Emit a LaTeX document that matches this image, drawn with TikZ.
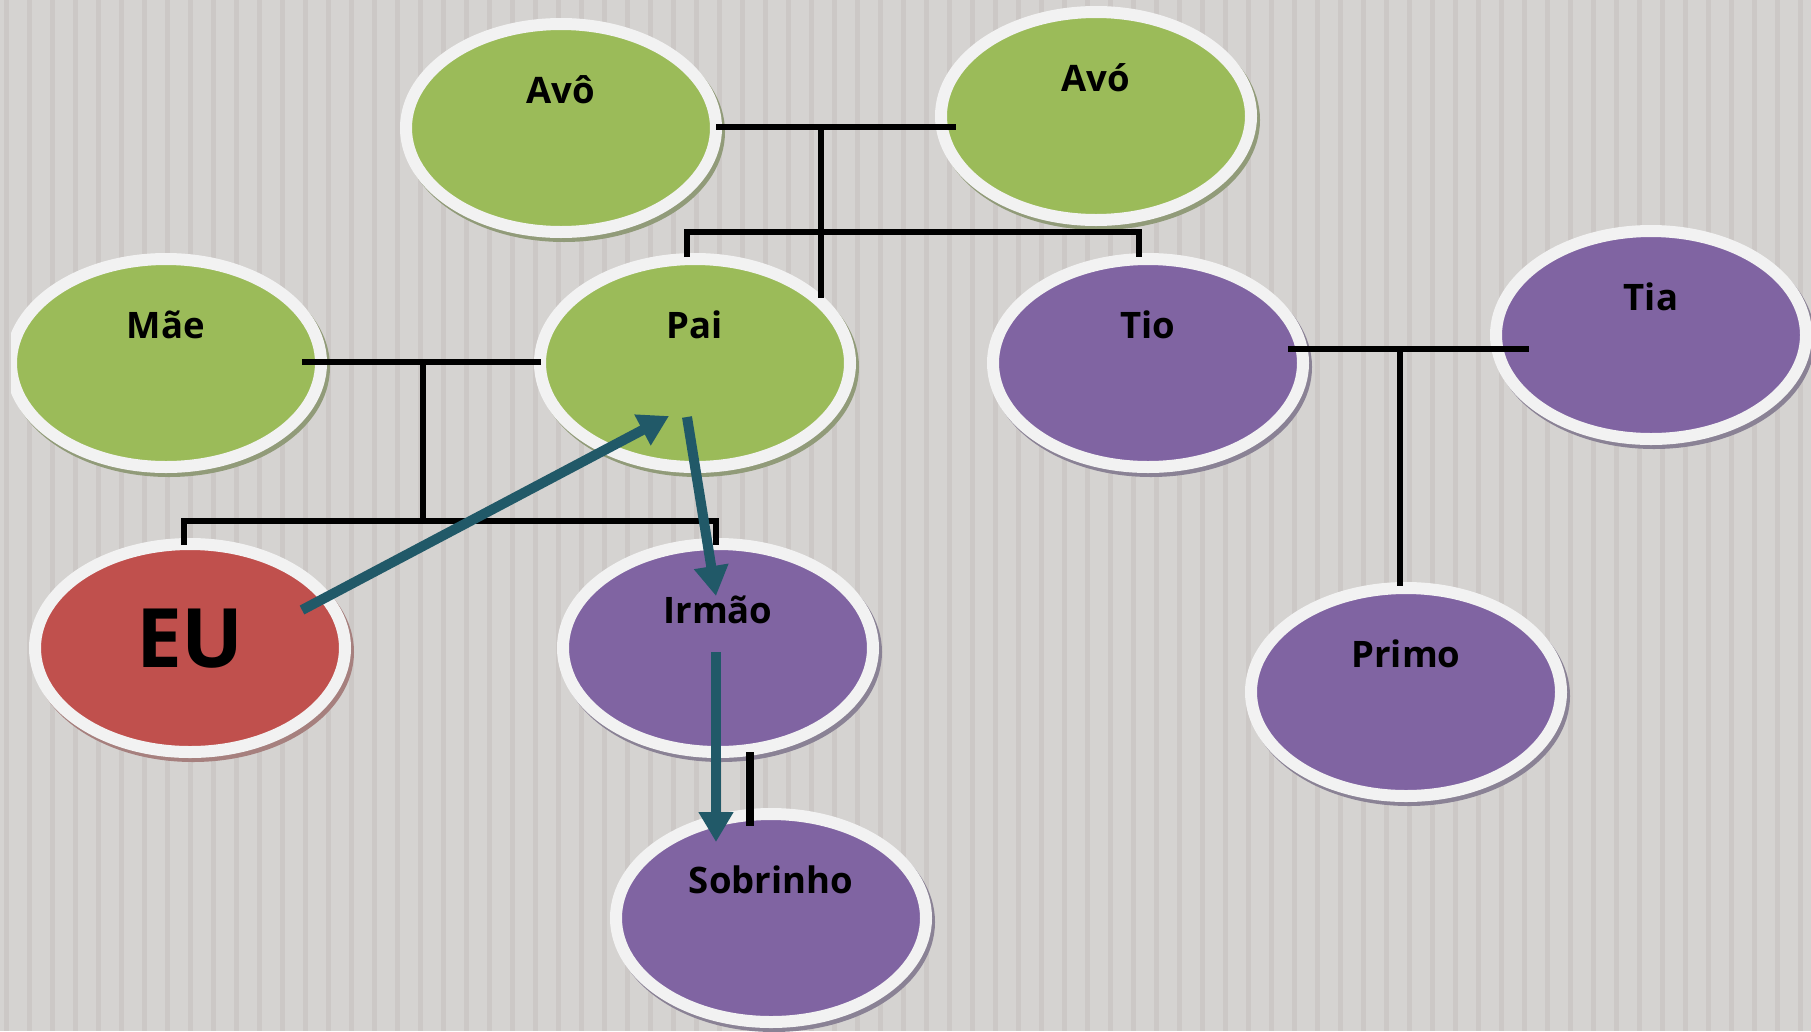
\documentclass[tikz,border=0pt]{standalone}
\usepackage{fontspec}
\newfontfamily\lblfont{Open Sans}
\usetikzlibrary{shapes.geometric,arrows.meta}
\definecolor{bgc}{HTML}{D5D3D1}
\definecolor{stripec}{HTML}{CCC8C6}
\definecolor{ringc}{HTML}{F2F2F2}
\definecolor{grnc}{HTML}{9BBB59}
\definecolor{purc}{HTML}{8064A2}
\definecolor{redc}{HTML}{C0504D}
\definecolor{tealc}{HTML}{215968}
\definecolor{grnsh}{HTML}{919B79}
\definecolor{pursh}{HTML}{8A8295}
\definecolor{redsh}{HTML}{A6807E}
\begin{document}
\begin{tikzpicture}[x=1pt,y=-1pt,
  person/.style={ellipse, minimum width=310pt, minimum height=208pt, inner sep=0pt,
    draw=ringc, line width=12pt, text height=25pt, text depth=75pt,
    font=\lblfont\bfseries\fontsize{36.5pt}{42pt}\selectfont},
  grnp/.style={person, fill=grnc, preaction={draw=grnsh, fill=grnsh, transform canvas={shift={(3pt,-4pt)}}}},
  purp/.style={person, fill=purc, preaction={draw=pursh, fill=pursh, transform canvas={shift={(3pt,-4pt)}}}},
  redp/.style={person, fill=redc, preaction={draw=redsh, fill=redsh, transform canvas={shift={(3pt,-4pt)}}},
    text height=54pt, text depth=16pt, font=\lblfont\bfseries\fontsize{82pt}{88pt}\selectfont},
  conn/.style={draw=black, line width=6.5pt},
  arr/.style={draw=tealc, line width=10pt, -{Triangle[length=30pt, width=33pt]}},
]
\useasboundingbox (0,0) rectangle (1811,1031);
% background
\fill[bgc] (0,0) rectangle (1811,1031);
\foreach \i in {0,...,78} {
  \fill[stripec] (3.5+23*\i,0) rectangle ++(5,1031);
}
% persons
\node[grnp] (avo) at (561,128) {Avô};
\node[grnp] (avoa) at (1096,116) {Avó};
\begin{scope}
  \clip (11,0) rectangle (600,700);
  \node[grnp] (mae) at (166,363) {Mãe};
\end{scope}
\node[grnp] (pai) at (695,363) {Pai};
\node[purp] (tio) at (1148,363) {Tio};
\node[purp] (tia) at (1651,335) {Tia};
\node[redp] (eu) at (190,648) {EU};
\node[purp] (irmao) at (718,648) {Irmão};
\node[purp] (primo) at (1406,692) {Primo};
\node[purp] (sobr) at (771,918) {Sobrinho};
% junction points
\coordinate (gp) at (821,127);
\coordinate (mp) at (423,362);
\coordinate (tt) at (1400,349);
% family connectors
\draw[conn] ([shift={(155,-1)}]avo.center) -- ([shift={(-140,11)}]avoa.center);
\draw[conn] (gp) -- ([shift={(126,-65)}]pai.center);
\draw[conn] ([shift={(-8,-106)}]pai.center) |- ([shift={(-9,-131)}]tio.center) -- ([shift={(-9,-106)}]tio.center);
\draw[conn] ([shift={(136,-1)}]mae.center) -- ([shift={(-154,-1)}]pai.center);
\draw[conn] (mp) -- ++(0,159);
\draw[conn] ([shift={(-6,-103)}]eu.center) |- ([shift={(-2,-127)}]irmao.center) -- ([shift={(-2,-103)}]irmao.center);
\draw[conn] ([shift={(140,-14)}]tio.center) -- ([shift={(-122,14)}]tia.center);
\draw[conn] (tt) -- ([shift={(-6,-106)}]primo.center);
\draw[conn, line width=7.5pt] ([shift={(32,104)}]irmao.center) -- ([shift={(-21,-92)}]sobr.center);
% arrows
\draw[arr] ([shift={(112,-38)}]eu.center) -- ([shift={(-26,53)}]pai.center);
\draw[arr] ([shift={(-8,54)}]pai.center) -- ([shift={(-2,-52)}]irmao.center);
\draw[arr] ([shift={(-2,4)}]irmao.center) -- ([shift={(-55,-76)}]sobr.center);
\end{tikzpicture}
\end{document}
